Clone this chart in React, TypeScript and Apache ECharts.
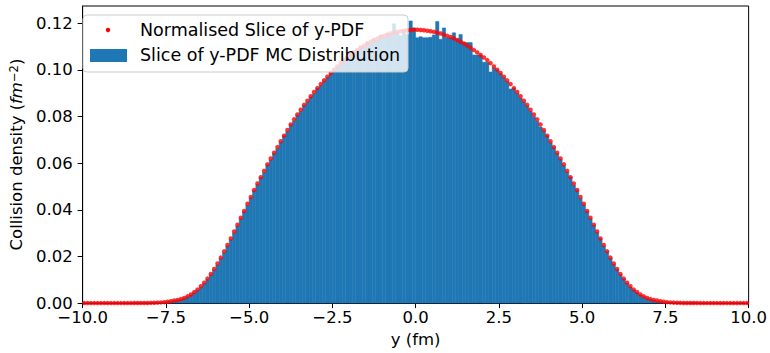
import React, { useEffect, useRef } from "react";
import * as echarts from "echarts";

const BIN_WIDTH = 0.1;
const X_MIN = -10;
const X_MAX = 10;
const X_TICKS = [-10, -7.5, -5, -2.5, 0, 2.5, 5, 7.5, 10];
const Y_TICKS = [0, 0.02, 0.04, 0.06, 0.08, 0.1, 0.12];

// bin centres -9.95 ... 9.95
const binCenters: number[] = Array.from({ length: 200 }, (_, i) => +(X_MIN + BIN_WIDTH / 2 + i * BIN_WIDTH).toFixed(2));

// Normalised slice of y-PDF (red dots), read at each bin centre
const pdfLeft: number[] = [
  0, 0, 0, 0, 0, 0, 0, 0, 0, 0,
  0, 0, 0, 0.00001, 0.00001, 0.00002, 0.00003, 0.00004, 0.00005, 0.00007,
  0.0001, 0.00015, 0.0002, 0.0003, 0.0004, 0.0006, 0.0008, 0.0011, 0.0013, 0.0017,
  0.0022, 0.0029, 0.0037, 0.0047, 0.0058, 0.0072, 0.0087, 0.0105, 0.0125, 0.0146,
  0.0170, 0.0195, 0.0222, 0.0249, 0.0277, 0.0307, 0.0336, 0.0366, 0.0395, 0.0426,
  0.0455, 0.0485, 0.0513, 0.0540, 0.0567, 0.0595, 0.0620, 0.0645, 0.0669, 0.0694,
  0.0718, 0.0742, 0.0766, 0.0788, 0.0809, 0.0829, 0.0850, 0.0868, 0.0887, 0.0905,
  0.0922, 0.0939, 0.0955, 0.0971, 0.0987, 0.1001, 0.1015, 0.1029, 0.1042, 0.1053,
  0.1064, 0.1075, 0.1085, 0.1095, 0.1104, 0.1113, 0.1121, 0.1128, 0.1135, 0.1141,
  0.1146, 0.1151, 0.1156, 0.1160, 0.1163, 0.1166, 0.1168, 0.1170, 0.1171, 0.1172,
];
const pdfRight: number[] = [
  0.1172, 0.1171, 0.1170, 0.1168, 0.1166, 0.1163, 0.1160, 0.1156, 0.1151, 0.1146,
  0.1141, 0.1135, 0.1128, 0.1121, 0.1113, 0.1104, 0.1095, 0.1085, 0.1075, 0.1064,
  0.1053, 0.1042, 0.1029, 0.1015, 0.1001, 0.0987, 0.0971, 0.0955, 0.0939, 0.0922,
  0.0905, 0.0887, 0.0868, 0.0850, 0.0829, 0.0809, 0.0788, 0.0766, 0.0742, 0.0718,
  0.0694, 0.0669, 0.0645, 0.0620, 0.0595, 0.0567, 0.0540, 0.0513, 0.0485, 0.0455,
  0.0426, 0.0395, 0.0366, 0.0336, 0.0307, 0.0277, 0.0249, 0.0222, 0.0195, 0.0170,
  0.0146, 0.0125, 0.0105, 0.0087, 0.0072, 0.0058, 0.0047, 0.0037, 0.0029, 0.0022,
  0.0017, 0.0013, 0.0011, 0.0008, 0.0006, 0.0004, 0.0003, 0.0002, 0.00015, 0.0001,
  0.00007, 0.00005, 0.00004, 0.00003, 0.00002, 0.00001, 0.00001, 0, 0, 0,
  0, 0, 0, 0, 0, 0, 0, 0, 0, 0,
];

// Slice of y-PDF MC distribution (histogram bars)
const histLeft: number[] = [
  0, 0, 0, 0, 0, 0, 0, 0, 0, 0,
  0, 0, 0, 0, 0, 0.00002, 0.00002, 0.00003, 0.00005, 0.00006,
  0.0001, 0.0001, 0.0002, 0.0003, 0.0004, 0.0006, 0.0008, 0.0010, 0.0013, 0.0016,
  0.0021, 0.0027, 0.0035, 0.0044, 0.0055, 0.0068, 0.0083, 0.0101, 0.0121, 0.0142,
  0.0164, 0.0191, 0.0216, 0.0245, 0.0272, 0.0301, 0.0331, 0.0361, 0.0392, 0.0420,
  0.0451, 0.0483, 0.0508, 0.0538, 0.0560, 0.0592, 0.0614, 0.0641, 0.0662, 0.0690,
  0.0717, 0.0736, 0.0764, 0.0781, 0.0806, 0.0822, 0.0847, 0.0861, 0.0884, 0.0898,
  0.0920, 0.0933, 0.0952, 0.0966, 0.0984, 0.0996, 0.1012, 0.1028, 0.1040, 0.1058,
  0.1070, 0.1082, 0.1090, 0.1102, 0.1098, 0.1120, 0.1115, 0.1132, 0.1128, 0.1150,
  0.1140, 0.1158, 0.1152, 0.1198, 0.1160, 0.1146, 0.1172, 0.1152, 0.1210, 0.1180,
];
const histRight: number[] = [
  0.1138, 0.1142, 0.1138, 0.1138, 0.1140, 0.1150, 0.1208, 0.1131, 0.1180, 0.1138,
  0.1138, 0.1159, 0.1131, 0.1152, 0.1117, 0.1117, 0.1117, 0.1064, 0.1064, 0.1064,
  0.1033, 0.1033, 0.0991, 0.1009, 0.1000, 0.0984, 0.0966, 0.0950, 0.0918, 0.0922,
  0.0900, 0.0880, 0.0862, 0.0845, 0.0822, 0.0800, 0.0780, 0.0755, 0.0738, 0.0718,
  0.0688, 0.0668, 0.0641, 0.0616, 0.0590, 0.0562, 0.0540, 0.0506, 0.0484, 0.0450,
  0.0422, 0.0393, 0.0362, 0.0334, 0.0303, 0.0276, 0.0245, 0.0220, 0.0193, 0.0166,
  0.0144, 0.0122, 0.0103, 0.0085, 0.0069, 0.0056, 0.0045, 0.0035, 0.0027, 0.0021,
  0.0016, 0.0012, 0.0009, 0.0007, 0.0005, 0.0004, 0.0003, 0.0002, 0.0001, 0.0001,
  0.00005, 0.00003, 0.00002, 0.00002, 0, 0, 0, 0, 0, 0,
  0, 0, 0, 0, 0, 0, 0, 0, 0, 0,
];

const pdfValues = [...pdfLeft, ...pdfRight];
const histValues = [...histLeft, ...histRight];

const LEGEND_LABELS = ["Normalised Slice of y-PDF", "Slice of y-PDF MC Distribution"];
const X_NAME = "y (fm)";

const FONT = "DejaVu Sans";
const BLUE = "#1f77b4";
const TICK_FS = 16.5;
const LEGEND_FS = 17.5;

const fmt = (v: number, d: number) => v.toFixed(d).replace("-", "\u2212");

export default function App() {
  const ref = useRef<HTMLDivElement>(null);
  useEffect(() => {
    if (!ref.current) return;
    const chart = echarts.init(ref.current, null, { renderer: "svg" });
    const histData = binCenters.map((c, i) => [c, histValues[i]]);
    const pdfData = binCenters.map((c, i) => [c, pdfValues[i]]);
    chart.setOption({
      animation: false,
      grid: {
        left: 74,
        right: 21,
        top: 6,
        bottom: 44,
        show: true,
        borderColor: "#000",
        borderWidth: 1,
        backgroundColor: "transparent",
      },
      xAxis: {
        type: "value",
        min: X_MIN,
        max: X_MAX,
        interval: 2.5,
        name: X_NAME,
        nameLocation: "middle",
        nameGap: 24,
        nameTextStyle: { fontFamily: FONT, fontSize: TICK_FS, color: "#000" },
        axisLine: { show: true, onZero: false, lineStyle: { color: "#000", width: 1 } },
        axisTick: { show: true, length: 5, inside: false, lineStyle: { color: "#000" } },
        axisLabel: {
          margin: 6,
          fontFamily: FONT,
          fontSize: TICK_FS,
          color: "#000",
          formatter: (v: number) => (X_TICKS.some((t) => Math.abs(t - v) < 1e-9) ? fmt(v, 1) : ""),
        },
        splitLine: { show: false },
      },
      yAxis: {
        type: "value",
        min: 0,
        max: 0.1274,
        interval: 0.02,
        name: "{a|Collision density (}{i|fm}{s|\u22122}{a|)}",
        nameLocation: "middle",
        nameGap: 52,
        nameRotate: 90,
        nameTextStyle: {
          fontFamily: FONT,
          fontSize: TICK_FS,
          color: "#000",
          rich: {
            a: { fontFamily: FONT, fontSize: TICK_FS, color: "#000" },
            i: { fontFamily: FONT, fontSize: TICK_FS, color: "#000", fontStyle: "italic" },
            s: { fontFamily: FONT, fontSize: 11.5, color: "#000", verticalAlign: "top", lineHeight: 12 },
          },
        },
        axisLine: { show: true, onZero: false, lineStyle: { color: "#000", width: 1 } },
        axisTick: { show: true, length: 5, inside: false, lineStyle: { color: "#000" } },
        axisLabel: {
          margin: 10,
          fontFamily: FONT,
          fontSize: TICK_FS,
          color: "#000",
          showMaxLabel: false,
          formatter: (v: number) => (Y_TICKS.some((t) => Math.abs(t - v) < 1e-9) ? fmt(v, 2) : ""),
        },
        splitLine: { show: false },
      },
      series: [
        {
          type: "custom",
          name: LEGEND_LABELS[1],
          data: histData,
          z: 2,
          renderItem: (_params: any, api: any) => {
            const x = api.value(0);
            const y = api.value(1);
            const p0 = api.coord([x - BIN_WIDTH / 2, y]);
            const p1 = api.coord([x + BIN_WIDTH / 2, 0]);
            return {
              type: "rect",
              shape: { x: p0[0], y: p0[1], width: p1[0] - p0[0], height: p1[1] - p0[1] },
              style: { fill: BLUE, stroke: BLUE, lineWidth: 0.5 },
            };
          },
        },
        {
          type: "scatter",
          name: LEGEND_LABELS[0],
          data: pdfData,
          symbol: "circle",
          symbolSize: 4.5,
          itemStyle: { color: "#ff0000" },
          z: 3,
        },
      ],
      graphic: [
        {
          type: "rect",
          z: 100,
          shape: { x: 83, y: 15, width: 325, height: 57, r: 4 },
          style: { fill: "rgba(255,255,255,0.8)", stroke: "#cccccc", lineWidth: 1 },
        },
        {
          type: "circle",
          z: 101,
          shape: { cx: 108, cy: 30, r: 2.2 },
          style: { fill: "#ff0000" },
        },
        {
          type: "rect",
          z: 101,
          shape: { x: 90, y: 49, width: 37, height: 13 },
          style: { fill: BLUE },
        },
        {
          type: "text",
          z: 101,
          x: 140,
          y: 30,
          style: { text: LEGEND_LABELS[0], font: `${LEGEND_FS}px "${FONT}"`, fill: "#000", verticalAlign: "middle" },
        },
        {
          type: "text",
          z: 101,
          x: 140,
          y: 55,
          style: { text: LEGEND_LABELS[1], font: `${LEGEND_FS}px "${FONT}"`, fill: "#000", verticalAlign: "middle" },
        },
      ],
    });
    return () => chart.dispose();
  }, []);
  return <div ref={ref} style={{ position: "absolute", left: 0, top: 0, width: 770, height: 353 }} />;
}
